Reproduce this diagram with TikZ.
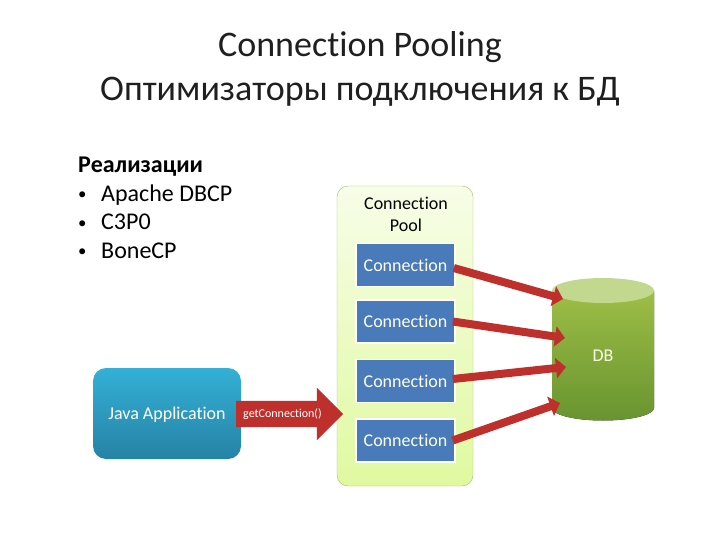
\documentclass[tikz,border=0pt]{standalone}
\usepackage{fontspec}
\setmainfont[Ligatures=NoCommon]{Carlito}
\usetikzlibrary{arrows.meta,shapes.arrows}

\definecolor{connblue}{RGB}{73,122,186}
\definecolor{linkred}{RGB}{190,48,44}
\definecolor{pooledge}{RGB}{165,190,110}
\definecolor{poolgreen}{RGB}{224,249,160}
\definecolor{javatop}{RGB}{52,176,214}
\definecolor{javabot}{RGB}{38,130,165}
\definecolor{dbtop}{RGB}{158,190,70}
\definecolor{dbbot}{RGB}{104,148,48}
\definecolor{dblid}{RGB}{194,216,142}

\newcommand{\listitem}[1]{\makebox[23pt][l]{\raisebox{1.5pt}{\scalebox{0.7}{\textbullet}}}#1}

\tikzset{
	connbox/.style={draw=white, line width=1.5pt, fill=connblue, minimum width=99pt, minimum height=43pt, text=white!92!yellow, font=\fontsize{18}{20}\selectfont},
	link/.style={-{Triangle[length=10pt,width=20pt]}, draw=linkred, line width=8pt},
}

\begin{document}
\begin{tikzpicture}[x=1pt, y=-1pt]
	\useasboundingbox (0,0) rectangle (720,540);
	% title and list
	\node[align=center, font=\fontsize{36}{44}\selectfont, text=black!88] (title) at (360,69) {Connection Pooling\\Оптимизаторы подключения к БД};
	\node[anchor=north west, inner sep=0pt, align=left, font=\fontsize{24}{28.5}\selectfont] (impl) at (78,157) {\textbf{Реализации}\\\listitem{Apache DBCP}\\\listitem{C3P0}\\\listitem{BoneCP}};
	% pool
	\node[draw=pooledge, rounded corners=11pt, top color=poolgreen!25, bottom color=poolgreen, minimum width=136pt, minimum height=300pt] (pool) at (405,336) {};
	\node[align=center, font=\fontsize{18}{22}\selectfont] (pooltext) at (406,214) {Connection\\Pool};
	\node[connbox] (conn1) at (405.5,265) {Connection};
	\node[connbox] (conn2) at (405.5,321.5) {Connection};
	\node[connbox] (conn3) at (405.5,381) {Connection};
	\node[connbox] (conn4) at (405.5,440.5) {Connection};
	% java side
	\node[rounded corners=13pt, top color=javatop, bottom color=javabot, minimum width=148pt, minimum height=91pt, text=white, text height=12pt, text depth=1pt, font=\fontsize{18}{20}\selectfont] (java) at (167,413.5) {Java Application};
	\node[single arrow, inner sep=0pt, minimum height=107pt, minimum width=52pt, single arrow head extend=13pt, single arrow tip angle=90, fill=linkred] (call) at (283,414) {\rule{0pt}{26pt}};
	\node[text=white, font=\fontsize{12}{14}\selectfont, inner sep=0pt] (calltext) at (282.5,414) {getConnection()};
	% database
	\fill[top color=dbtop, bottom color=dbbot] (552,290.5) -- (552,408) arc[start angle=180, end angle=360, x radius=51, y radius=-12.5] -- (654,290.5) -- cycle;
	\fill[dblid] (603,290.5) ellipse[x radius=51, y radius=12.5];
	\node[text=white!90!lime, font=\fontsize{18}{20}\selectfont] (db) at (603,356) {DB};
	\coordinate (db1) at (563,299);
	\coordinate (db2) at (565,338);
	\coordinate (db3) at (566,367);
	\coordinate (db4) at (560,403);
	% links
	\draw[link] (conn1.east) ++(-2,3) -- (db1);
	\draw[link] (conn2.east) ++(-3,0) -- (db2);
	\draw[link] (conn3.east) ++(-3,-2) -- (db3);
	\draw[link] (conn4.east) ++(-3,0) -- (db4);
\end{tikzpicture}
\end{document}
